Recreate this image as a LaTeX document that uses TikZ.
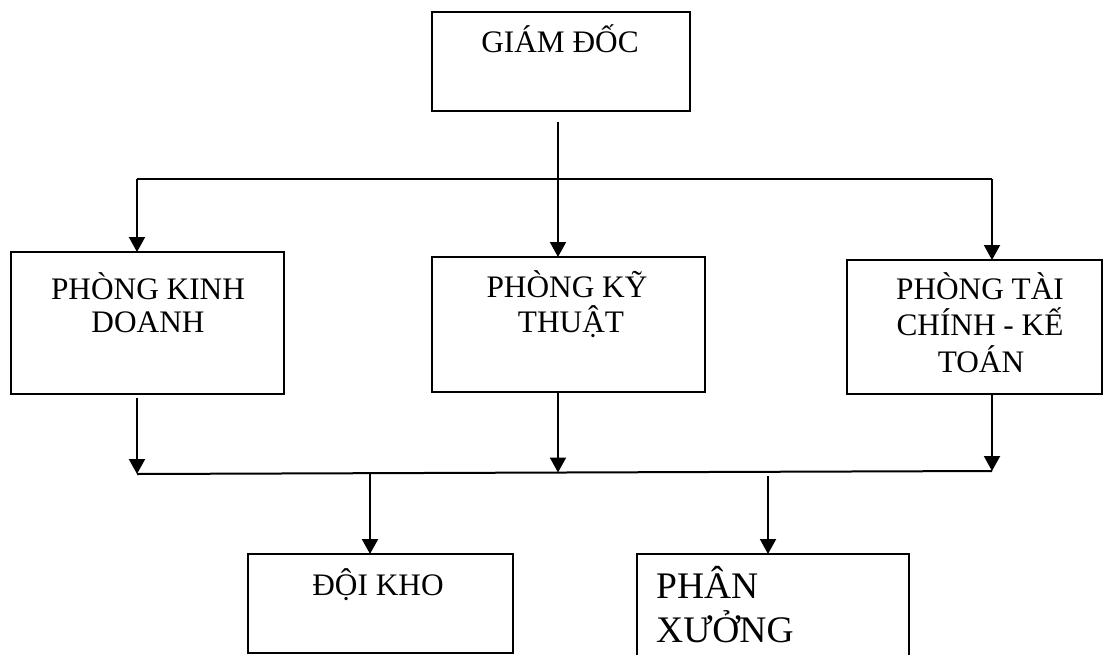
\documentclass[tikz,border=0pt]{standalone}
\usepackage{fontspec}
\setmainfont{Liberation Serif}
\usetikzlibrary{arrows.meta}

\begin{document}
\begin{tikzpicture}[x=1pt, y=-1pt,
  box/.style={draw, line width=1.3pt, anchor=north west, inner sep=0pt, outer sep=0pt},
  link/.style={line width=2pt},
  arr/.style={line width=2pt, -{Triangle[width=16pt,length=15pt]}},
  lbl/.style={anchor=base, inner sep=0pt, font=\fontsize{31.3}{36}\selectfont},
  big/.style={anchor=base west, inner sep=0pt, font=\fontsize{37.5}{44}\selectfont}]

  \useasboundingbox (0,0) rectangle (1104,654);
  \clip (0,0) rectangle (1104,654);

  % boxes
  \node[box, minimum width=258pt, minimum height=99pt]  (gd)  at (432,12)  {};
  \node[box, minimum width=273pt, minimum height=142pt] (pkd) at (11,252)  {};
  \node[box, minimum width=273pt, minimum height=135pt] (pkt) at (432,257) {};
  \node[box, minimum width=255pt, minimum height=134pt] (ptc) at (847,260) {};
  \node[box, minimum width=265pt, minimum height=99pt]  (dk)  at (248,554) {};
  \node[box, minimum width=272pt, minimum height=120pt] (px)  at (637,554) {};

  % texts
  \node[lbl] (gd-t)  at (560,52)  {GIÁM ĐỐC};
  \node[lbl] (pkd-a) at (148,299) {PHÒNG KINH};
  \node[lbl] (pkd-b) at (148,332) {DOANH};
  \node[lbl] (pkt-a) at (567,297) {PHÒNG KỸ};
  \node[lbl] (pkt-b) at (571,332) {THUẬT};
  \node[lbl] (ptc-a) at (980,299) {PHÒNG TÀI};
  \node[lbl] (ptc-b) at (980,335) {CHÍNH - KẾ};
  \node[lbl] (ptc-c) at (981,372) {TOÁN};
  \node[lbl] (dk-t)  at (378,595) {ĐỘI KHO};
  \node[big] (px-a)  at (656,598) {PHÂN};
  \node[big] (px-b)  at (656,642) {XƯỞNG};

  % upper distribution
  \coordinate (gdout) at (558,122);
  \coordinate (tl) at (137,179);
  \coordinate (tr) at (992,179);
  \draw[link] (tl) -- (tr);
  \draw[arr] (gdout) -- (gdout |- pkt.north);
  \draw[arr] (tl) -- (tl |- pkd.north);
  \draw[arr] (tr) -- (tr |- ptc.north);

  % lower collection
  \coordinate (pkdout) at (137,398);
  \coordinate (pktout) at (558,393);
  \coordinate (ptcout) at (992,395);
  \coordinate (bl) at (137,474);
  \coordinate (br) at (992,471);
  \draw[arr] (pkdout) -- (bl);
  \draw[arr] (pktout) -- (558,472.5);
  \draw[arr] (ptcout) -- (br);
  \draw[link] (bl) -- (br);

  % to the lower boxes
  \coordinate (dkin) at (370,472);
  \coordinate (pxin) at (768,476);
  \draw[arr] (dkin) -- (dkin |- dk.north);
  \draw[arr] (pxin) -- (pxin |- px.north);
\end{tikzpicture}
\end{document}
